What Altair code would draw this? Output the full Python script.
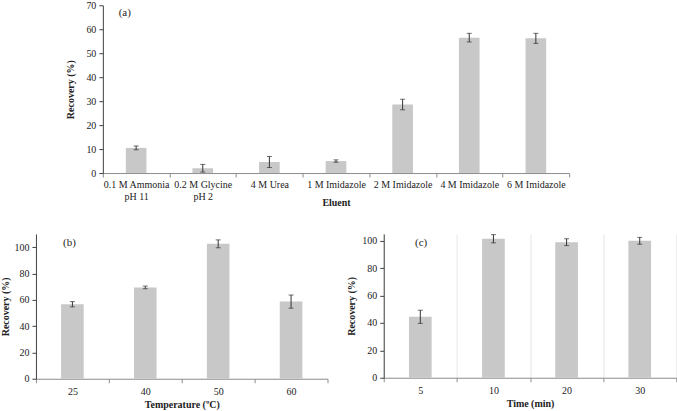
import altair as alt
import pandas as pd

# Panel (a): eluent screening
eluents = ["0.1 M Ammonia\npH 11", "0.2 M Glycine\npH 2", "4 M Urea", "1 M Imidazole",
           "2 M Imidazole", "4 M Imidazole", "6 M Imidazole"]
eluent_recovery = [10.5, 2.0, 4.6, 5.0, 28.6, 56.5, 56.2]
eluent_error = [0.8, 1.6, 2.3, 0.5, 2.2, 1.8, 2.1]

# Panel (b): elution temperature
temperatures = ["25", "40", "50", "60"]
temperature_recovery = [56.6, 69.4, 102.5, 58.6]
temperature_error = [2.0, 1.0, 3.0, 5.0]

# Panel (c): elution time
times = ["5", "10", "20", "30"]
time_recovery = [44.5, 101.5, 99.0, 100.0]
time_error = [4.8, 3.0, 2.5, 2.5]

SERIF = "Liberation Serif"
BAR = "#c8c8c8"
ERR = "#333333"
TEXT = "#222222"


def panel(cats, vals, errs, xtitle, letter, width, height, ymax, yticks,
          letter_pos, ytitle_x, xtitle_y, label_pad, spacers,
          grid=False, inset=0):
    df = pd.DataFrame({"cat": cats, "rec": vals, "err": errs})
    base = alt.Chart(df).transform_calculate(
        lo="datum.rec - datum.err", hi="datum.rec + datum.err"
    )
    x_axis = alt.Axis(
        title=xtitle, labelAngle=0, tickBand="extent", grid=grid,
        gridColor="#e6e6e6", gridWidth=1, labelOverlap=False,
        domainColor="#8c8c8c", tickColor="#8c8c8c", tickSize=4,
        labelPadding=label_pad, labelFont=SERIF, labelFontSize=10,
        labelColor=TEXT, labelLineHeight=12,
        labelExpr="split(datum.label, '\\n')",
        titleFont=SERIF, titleFontSize=10, titleFontWeight="bold",
        titleColor=TEXT, titleY=xtitle_y, titleBaseline="middle",
        titleX=inset + (width - inset) / 2, titleAlign="center",
    )
    y_axis = alt.Axis(
        title="Recovery (%)", values=yticks, grid=False, labelOverlap=False,
        domainColor="#404040", tickColor="#404040", tickSize=4,
        labelPadding=3, labelFont=SERIF, labelFontSize=10, labelColor=TEXT,
        titleFont=SERIF, titleFontSize=10, titleFontWeight="bold",
        titleColor=TEXT, titleX=ytitle_x, titleY=height / 2,
        titleBaseline="middle", titleAlign="center", offset=-inset,
    )
    x_scale = alt.Scale(paddingInner=0, paddingOuter=0, range=[inset, width])
    y_scale = alt.Scale(domain=[0, ymax], nice=False)

    def X():
        return alt.X("cat:N", sort=cats, axis=x_axis, scale=x_scale)

    def Y(field):
        return alt.Y(field, axis=y_axis, scale=y_scale)

    bars = base.mark_bar(color=BAR, width=alt.RelativeBandSize(0.31)).encode(
        x=X(), y=Y("rec:Q"))
    whisker = base.mark_rule(color=ERR, strokeWidth=1).encode(
        x=X(), y=Y("lo:Q"), y2="hi:Q")
    cap_lo = base.mark_tick(color=ERR, size=5, thickness=1).encode(
        x=X(), y=Y("lo:Q"))
    cap_hi = base.mark_tick(color=ERR, size=5, thickness=1).encode(
        x=X(), y=Y("hi:Q"))

    tag = alt.Chart(pd.DataFrame({"t": [letter]})).mark_text(
        font=SERIF, fontSize=11, color=TEXT, align="center", baseline="middle"
    ).encode(x=alt.value(letter_pos[0]), y=alt.value(letter_pos[1]), text="t:N")

    layers = [bars, whisker, cap_lo, cap_hi, tag]
    # invisible rules that reserve the outer margins of the figure
    for sx, sy, sy2 in spacers:
        layers.append(alt.Chart(pd.DataFrame({"s": [0]})).mark_rule(opacity=0).encode(
            x=alt.value(sx), y=alt.value(sy), y2=alt.value(sy2)))

    return alt.layer(*layers).properties(width=width, height=height)


# panel (a) shares its left edge with panel (b); its axes sit 67 px inside
panel_a = panel(eluents, eluent_recovery, eluent_error, "Eluent", "(a)",
                534, 168, 70, [0, 10, 20, 30, 40, 50, 60, 70],
                (89, 8), -32, 30, 2.5, [(100, -5, 229)], inset=67)
panel_b = panel(temperatures, temperature_recovery, temperature_error,
                "Temperature (ºC)", "(b)", 292, 145, 110, [0, 20, 40, 60, 80, 100],
                (33.5, 9.3), -30, 26, 4, [(-36, 0, 177)])
panel_c = panel(times, time_recovery, time_error, "Time (min)", "(c)",
                293, 144, 105, [0, 20, 40, 60, 80, 100],
                (37.4, 8.6), -32.6, 26, 4, [(-40, 0, 144)], grid=True)

chart = alt.vconcat(
    panel_a,
    alt.hconcat(panel_b, panel_c, spacing=15.3),
    spacing=0,
).properties(padding=0, background="white").configure_view(stroke=None)

chart.save("out.html", embed_options={"renderer": "svg", "actions": False})
